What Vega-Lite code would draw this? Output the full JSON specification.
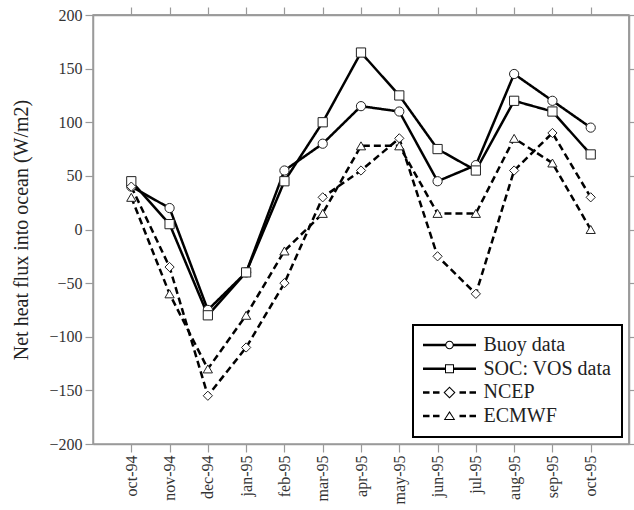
{
  "$schema": "https://vega.github.io/schema/vega-lite/v6.json",
  "width": 536,
  "height": 429,
  "autosize": {"type": "none"},
  "padding": {"left": 93, "top": 15, "right": 5, "bottom": 66},
  "background": "white",
  "config": {
    "view": {"stroke": "#9a9a9a", "strokeWidth": 1.5},
    "font": "Liberation Serif",
    "legend": {"strokeWidth": 2},
    "axis": {
      "grid": false,
      "domainColor": "#9a9a9a",
      "tickColor": "#9a9a9a",
      "domainWidth": 1.5,
      "tickWidth": 1.2,
      "tickSize": 8,
      "labelFont": "Liberation Serif",
      "labelFontSize": 16,
      "labelColor": "#333333",
      "titleFont": "Liberation Serif",
      "titleFontWeight": "normal",
      "titleColor": "#222222"
    }
  },
  "data": {
    "values": [
      {"month": "oct-94", "series": "Buoy data", "flux": 40},
      {"month": "nov-94", "series": "Buoy data", "flux": 20},
      {"month": "dec-94", "series": "Buoy data", "flux": -75},
      {"month": "jan-95", "series": "Buoy data", "flux": -40},
      {"month": "feb-95", "series": "Buoy data", "flux": 55},
      {"month": "mar-95", "series": "Buoy data", "flux": 80},
      {"month": "apr-95", "series": "Buoy data", "flux": 115},
      {"month": "may-95", "series": "Buoy data", "flux": 110},
      {"month": "jun-95", "series": "Buoy data", "flux": 45},
      {"month": "jul-95", "series": "Buoy data", "flux": 60},
      {"month": "aug-95", "series": "Buoy data", "flux": 145},
      {"month": "sep-95", "series": "Buoy data", "flux": 120},
      {"month": "oct-95", "series": "Buoy data", "flux": 95},
      {"month": "oct-94", "series": "SOC: VOS data", "flux": 45},
      {"month": "nov-94", "series": "SOC: VOS data", "flux": 5},
      {"month": "dec-94", "series": "SOC: VOS data", "flux": -80},
      {"month": "jan-95", "series": "SOC: VOS data", "flux": -40},
      {"month": "feb-95", "series": "SOC: VOS data", "flux": 45},
      {"month": "mar-95", "series": "SOC: VOS data", "flux": 100},
      {"month": "apr-95", "series": "SOC: VOS data", "flux": 165},
      {"month": "may-95", "series": "SOC: VOS data", "flux": 125},
      {"month": "jun-95", "series": "SOC: VOS data", "flux": 75},
      {"month": "jul-95", "series": "SOC: VOS data", "flux": 55},
      {"month": "aug-95", "series": "SOC: VOS data", "flux": 120},
      {"month": "sep-95", "series": "SOC: VOS data", "flux": 110},
      {"month": "oct-95", "series": "SOC: VOS data", "flux": 70},
      {"month": "oct-94", "series": "NCEP", "flux": 40},
      {"month": "nov-94", "series": "NCEP", "flux": -35},
      {"month": "dec-94", "series": "NCEP", "flux": -155},
      {"month": "jan-95", "series": "NCEP", "flux": -110},
      {"month": "feb-95", "series": "NCEP", "flux": -50},
      {"month": "mar-95", "series": "NCEP", "flux": 30},
      {"month": "apr-95", "series": "NCEP", "flux": 55},
      {"month": "may-95", "series": "NCEP", "flux": 85},
      {"month": "jun-95", "series": "NCEP", "flux": -25},
      {"month": "jul-95", "series": "NCEP", "flux": -60},
      {"month": "aug-95", "series": "NCEP", "flux": 55},
      {"month": "sep-95", "series": "NCEP", "flux": 90},
      {"month": "oct-95", "series": "NCEP", "flux": 30},
      {"month": "oct-94", "series": "ECMWF", "flux": 30},
      {"month": "nov-94", "series": "ECMWF", "flux": -60},
      {"month": "dec-94", "series": "ECMWF", "flux": -130},
      {"month": "jan-95", "series": "ECMWF", "flux": -80},
      {"month": "feb-95", "series": "ECMWF", "flux": -20},
      {"month": "mar-95", "series": "ECMWF", "flux": 15},
      {"month": "apr-95", "series": "ECMWF", "flux": 78},
      {"month": "may-95", "series": "ECMWF", "flux": 78},
      {"month": "jun-95", "series": "ECMWF", "flux": 15},
      {"month": "jul-95", "series": "ECMWF", "flux": 15},
      {"month": "aug-95", "series": "ECMWF", "flux": 85},
      {"month": "sep-95", "series": "ECMWF", "flux": 62},
      {"month": "oct-95", "series": "ECMWF", "flux": 0}
    ]
  },
  "layer": [
    {
      "data": {"values": [{"edge": "top"}]},
      "mark": {"type": "rule", "color": "#9a9a9a", "strokeWidth": 1.5},
      "encoding": {
        "y": {"datum": 200, "type": "quantitative", "axis": null},
        "x": {"value": {"expr": "0"}},
        "x2": {"value": {"expr": "width"}}
      }
    },
    {
      "data": {"values": [{"edge": "right"}]},
      "mark": {"type": "rule", "color": "#9a9a9a", "strokeWidth": 1.5},
      "encoding": {"x": {"value": {"expr": "width"}}}
    },
    {
      "mark": {"type": "line", "strokeWidth": 2.5, "color": "black"},
      "encoding": {
        "x": {
          "field": "month",
          "type": "nominal",
          "sort": ["oct-94", "nov-94", "dec-94", "jan-95", "feb-95", "mar-95", "apr-95", "may-95", "jun-95", "jul-95", "aug-95", "sep-95", "oct-95"],
          "scale": {"type": "point", "padding": 1},
          "axis": {"orient": "bottom", "labelAngle": -90, "title": null, "labelPadding": 3}
        },
        "y": {
          "field": "flux",
          "type": "quantitative",
          "scale": {"domain": [-200, 200], "nice": false, "zero": false},
          "axis": {
            "orient": "left",
            "values": [-200, -150, -100, -50, 0, 50, 100, 150, 200],
            "title": "Net heat flux into ocean (W/m2)",
            "titleFontSize": 20,
            "titlePadding": 17,
            "labelPadding": 3
          }
        },
        "strokeDash": {
          "field": "series",
          "type": "nominal",
          "scale": {
            "domain": ["NCEP", "ECMWF", "Buoy data", "SOC: VOS data"],
            "range": [[7, 4], [7, 4], [1, 0], [1, 0]]
          },
          "legend": null
        }
      }
    },
    {
      "mark": {"type": "point", "filled": true, "fill": "white", "stroke": "#222222", "strokeWidth": 1, "opacity": 1, "size": 85},
      "encoding": {
        "x": {
          "field": "month",
          "type": "nominal",
          "sort": ["oct-94", "nov-94", "dec-94", "jan-95", "feb-95", "mar-95", "apr-95", "may-95", "jun-95", "jul-95", "aug-95", "sep-95", "oct-95"],
          "scale": {"type": "point", "padding": 1},
          "axis": {"orient": "top", "labels": false, "title": null, "domain": true, "ticks": true}
        },
        "y": {
          "field": "flux",
          "type": "quantitative",
          "scale": {"domain": [-200, 200], "nice": false, "zero": false},
          "axis": {"orient": "right", "labels": false, "title": null, "domain": true, "ticks": true, "values": [-200, -150, -100, -50, 0, 50, 100, 150, 200]}
        },
        "shape": {
          "field": "series",
          "type": "nominal",
          "scale": {
            "domain": ["ECMWF", "NCEP", "SOC: VOS data", "Buoy data"],
            "range": ["triangle-up", "diamond", "square", "circle"]
          },
          "legend": null
        }
      }
    },
    {
      "transform": [{"filter": "false"}],
      "mark": {"type": "point", "filled": true, "color": "black", "opacity": 1, "size": 100},
      "encoding": {
        "shape": {
          "field": "series",
          "type": "nominal",
          "scale": {
            "domain": ["Buoy data", "SOC: VOS data", "NCEP", "ECMWF"],
            "range": [
              "M-5.3,-0.25H-0.75V0.25H-5.3Z M0.75,-0.25H5.3V0.25H0.75Z M0.85,0A0.85,0.85,0,1,1,-0.85,0A0.85,0.85,0,1,1,0.85,0Z M0.65,0A0.65,0.65,0,1,0,-0.65,0A0.65,0.65,0,1,0,0.65,0Z",
              "M-5.3,-0.25H-0.8V0.25H-5.3Z M0.8,-0.25H5.3V0.25H0.8Z M-0.9,-0.9H0.9V0.9H-0.9Z M-0.7,-0.7V0.7H0.7V-0.7Z",
              "M-5.3,-0.25H-4V0.25H-5.3Z M-3.3,-0.25H-2V0.25H-3.3Z M2,-0.25H3.3V0.25H2Z M4,-0.25H5.3V0.25H4Z M1.2,0L0,1.2L-1.2,0L0,-1.2Z M0.9,0L0,-0.9L-0.9,0L0,0.9Z",
              "M-5.3,-0.25H-4V0.25H-5.3Z M-3.3,-0.25H-2V0.25H-3.3Z M2,-0.25H3.3V0.25H2Z M4,-0.25H5.3V0.25H4Z M0,-1L1.15,0.8L-1.15,0.8Z M0,-0.62L-0.8,0.6L0.8,0.6Z"
            ]
          },
          "legend": {
            "title": null,
            "orient": "none",
            "legendX": 320,
            "legendY": 310,
            "padding": 10,
            "strokeColor": "black",
            "fillColor": "white",
            "cornerRadius": 0,
            "labelFont": "Liberation Serif",
            "labelFontSize": 20,
            "labelColor": "#222222",
            "symbolSize": 100,
            "symbolFillColor": "black",
            "symbolStrokeColor": "transparent",
            "symbolStrokeWidth": 0,
            "symbolOpacity": 1,
            "symbolOffset": 16.5,
            "labelOffset": 24,
            "rowPadding": 3.7
          }
        }
      }
    }
  ],
  "resolve": {"scale": {"shape": "independent"}, "axis": {"x": "independent", "y": "independent"}}
}
